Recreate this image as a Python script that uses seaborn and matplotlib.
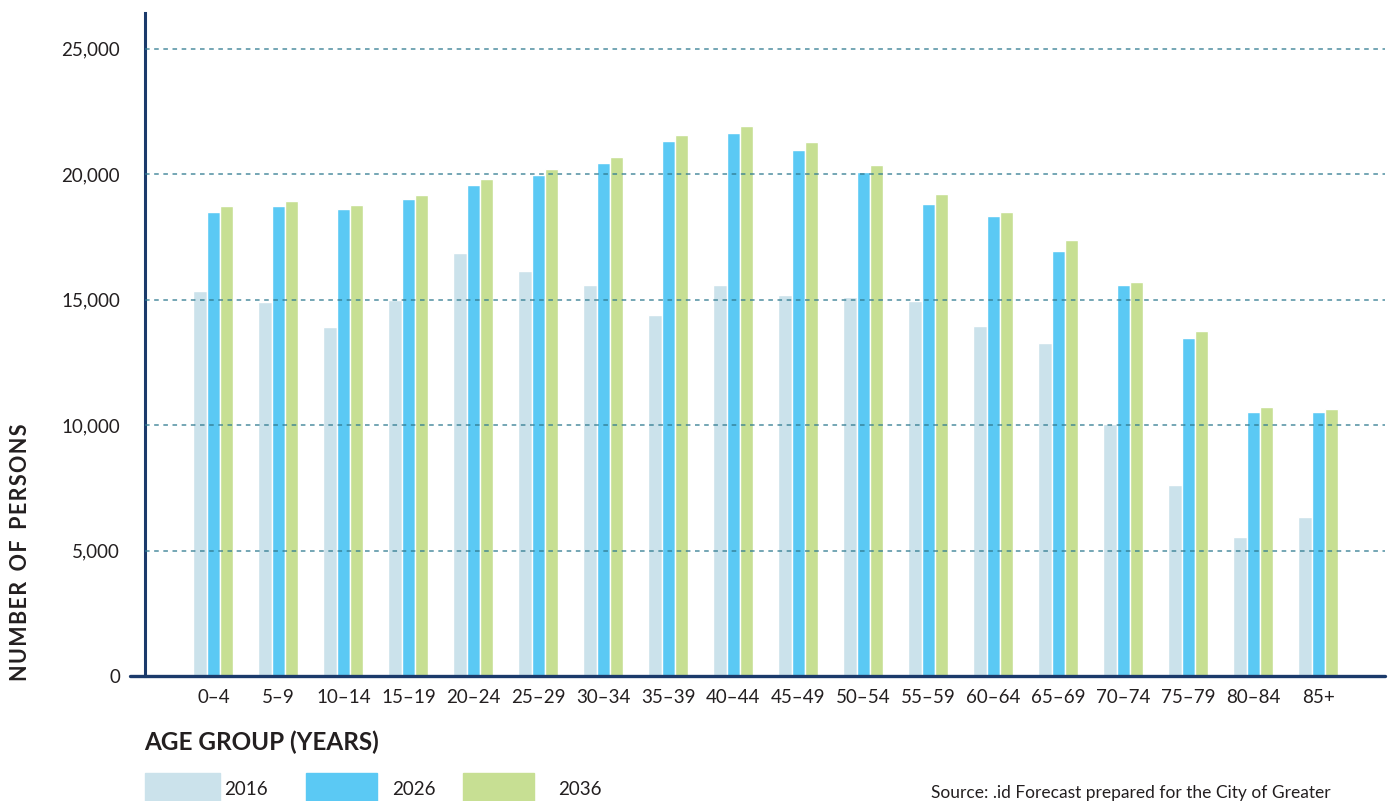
import numpy as np
import pandas as pd
import matplotlib.pyplot as plt
import seaborn as sns

# ---- data ----
age_groups = ["0–4", "5–9", "10–14", "15–19", "20–24", "25–29", "30–34", "35–39",
              "40–44", "45–49", "50–54", "55–59", "60–64", "65–69", "70–74",
              "75–79", "80–84", "85+"]
pop_2016 = [15350, 14910, 13910, 15000, 16860, 16150, 15590, 14390, 15590,
            15190, 15110, 14950, 13950, 13270, 10050, 7610, 5540, 6340]
pop_2026 = [18500, 18740, 18620, 19020, 19580, 19970, 20450, 21330, 21650,
            20970, 20090, 18820, 18340, 16940, 15590, 13470, 10520, 10520]
pop_2036 = [18740, 18940, 18780, 19180, 19810, 20210, 20690, 21570, 21930,
            21290, 20370, 19220, 18500, 17380, 15710, 13750, 10720, 10640]
years = ["2016", "2026", "2036"]
colors = ["#cbe2eb", "#5bc9f4", "#c7df93"]

df = pd.DataFrame({"age": age_groups * 3,
                   "year": np.repeat(years, len(age_groups)),
                   "persons": pop_2016 + pop_2026 + pop_2036})

sns.set_theme(style="white")
plt.rcParams["font.family"] = ["Lato", "DejaVu Sans"]
text_col = "#231f20"
navy = "#1b3a6b"

W, H = 1395, 801
fig = plt.figure(figsize=(W / 100, H / 100), dpi=100)
ax = fig.add_axes([0.104, 0.156, 0.889, 0.828])

sns.barplot(data=df, x="age", y="persons", hue="year", palette=colors,
            width=0.615, gap=0, saturation=1, ax=ax, zorder=2, legend=False)

ax.set_ylim(0, 26435)
ax.set_xlim(-1.05, 18.03)
ax.set_yticks([0, 5000, 10000, 15000, 20000, 25000])
ax.set_yticklabels(["0", "5,000", "10,000", "15,000", "20,000", "25,000"])
ax.tick_params(axis="y", length=0, pad=18, labelsize=13.5, labelcolor=text_col)
ax.tick_params(axis="x", length=0, pad=9, labelsize=13.5, labelcolor=text_col)

# dashed gridlines drawn over the bars
for v in [5000, 10000, 15000, 20000, 25000]:
    ax.axhline(v, color="#2f7a90", lw=1.1, ls=(0, (3, 3)), alpha=0.85, zorder=3)

for s in ["top", "right", "bottom"]:
    ax.spines[s].set_visible(False)
ax.spines["left"].set_color(navy)
ax.spines["left"].set_linewidth(2.2)
ax.plot([-0.0125, 1], [0, 0], transform=ax.transAxes, color=navy, lw=2.4,
        clip_on=False, zorder=4)

ax.set_xlabel("")
ax.set_ylabel("")
fig.text(0.103, 0.073, "AGE GROUP (YEARS)", fontsize=17.5, fontweight="bold",
         color=text_col, ha="left", va="center")
ylab = "\u200a".join("NUMBER OF PERSONS").replace("\u200a \u200a", "  ")
fig.text(0.015, 0.31, ylab, rotation=90, fontsize=15.5, fontweight="bold",
         color=text_col, ha="center", va="center")

# legend drawn by hand to keep the uneven spacing of the original
leg_boxes = [(145, 75), (306, 71), (463, 71)]
leg_text_x = [224, 392, 558]
for (x0, w), c, tx, lab in zip(leg_boxes, colors, leg_text_x, years):
    fig.patches.append(plt.Rectangle((x0 / W, 0), w / W, 28 / H, color=c,
                                     transform=fig.transFigure, figure=fig))
    fig.text(tx / W, 3 / H, lab, fontsize=13.5, color=text_col,
             ha="left", va="bottom")

fig.text(0.954, 0.01, "Source: .id Forecast prepared for the City of Greater",
         fontsize=12.5, color=text_col, ha="right", va="center")

fig.savefig("out.png", dpi=100)
